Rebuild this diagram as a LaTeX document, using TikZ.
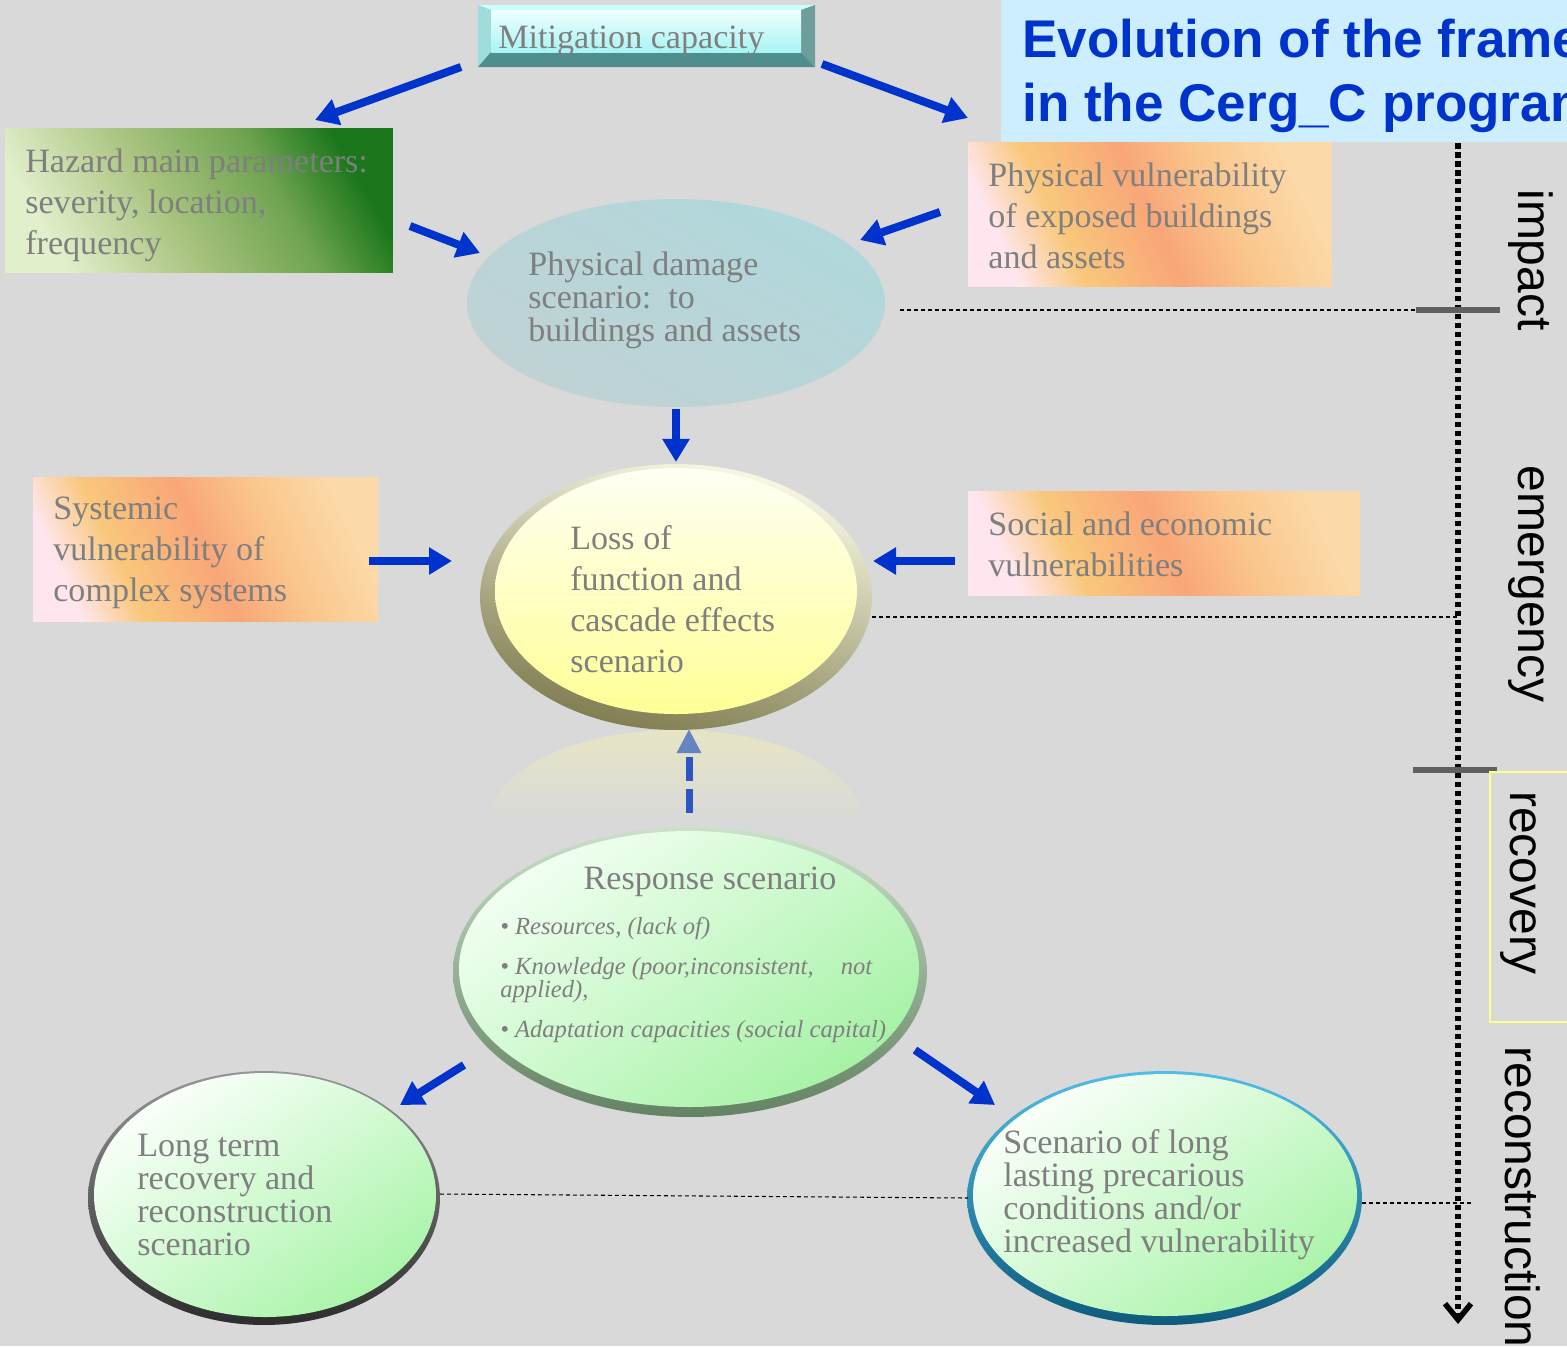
\documentclass[tikz,border=0pt]{standalone}
\usepackage{fontspec}
\setmainfont{Liberation Serif}
\newfontfamily\arialfont{Liberation Sans}
\usetikzlibrary{arrows.meta,shapes.geometric}

\definecolor{bg}{HTML}{D9D9D9}
\definecolor{titlebg}{HTML}{CCEEFF}
\definecolor{titleblue}{HTML}{0033CC}
\definecolor{arrowblue}{HTML}{0033CC}
\definecolor{txtgrey}{HTML}{7F7F7F}
\definecolor{barGrey}{HTML}{606060}
% bevel colours of the button
\definecolor{bvTop}{HTML}{C8FFFF}
\definecolor{bvLeft}{HTML}{9FDCDC}
\definecolor{bvBottom}{HTML}{4F8E8C}
\definecolor{bvRight}{HTML}{6E9E9C}
% peach panel colours
\definecolor{pkA}{HTML}{FFE6EE}
\definecolor{orA}{HTML}{F9C87C}
\definecolor{salA}{HTML}{F9A678}
\definecolor{orB}{HTML}{FAC68C}
\definecolor{pkB}{HTML}{FCD9A8}
% hazard panel colours
\definecolor{gA}{HTML}{E2EFCB}
\definecolor{gB}{HTML}{A7C27D}
\definecolor{gC}{HTML}{6FA352}
\definecolor{gD}{HTML}{1B771B}

\pgfdeclarehorizontalshading{peachglow}{100bp}{color(0bp)=(pkA); color(25bp)=(pkA); color(35bp)=(orA); color(50bp)=(salA); color(62bp)=(orB); color(75bp)=(pkB); color(100bp)=(pkB)}
\pgfdeclarehorizontalshading{greenfade}{100bp}{color(0bp)=(gA); color(25bp)=(gA); color(45bp)=(gB); color(62bp)=(gC); color(75bp)=(gD); color(100bp)=(gD)}

\begin{document}
\begin{tikzpicture}[x=0.02cm, y=-0.02cm,
  txt/.style={text=txtgrey, inner sep=0, anchor=west, align=left, font=\fontsize{19.4}{23.4}\selectfont},
  txttight/.style={txt, font=\fontsize{19.4}{18.8}\selectfont},
  bul/.style={text=txtgrey, inner sep=0, anchor=west, font=\fontsize{14}{13.2}\selectfont\itshape},
  flow/.style={draw=arrowblue, line width=0.16cm, -{Triangle[length=0.46cm,width=0.52cm]}},
  guide/.style={draw=black, line width=0.6pt, dash pattern=on 0.08cm off 0.06cm},
  phasebar/.style={draw=barGrey, line width=0.12cm},
  phase/.style={font=\arialfont\fontsize{27.3}{28}\selectfont, rotate=-90, anchor=base, inner sep=0, text=black},
  panel/.style={rectangle, inner sep=0, shade, minimum height=2.9cm},
  peach/.style={panel, shading=peachglow, shading angle=25},
]
\useasboundingbox (0,0) rectangle (1567,1346);
\fill[bg] (0,0) rectangle (1567,1346);

% title banner
\begin{scope}
  \clip (1001,0) rectangle (1567,142);
  \fill[titlebg] (1001,0) rectangle (1567,142);
  \node[font=\arialfont\bfseries\fontsize{30.2}{36}\selectfont, text=titleblue, anchor=base west, inner sep=0] (title1) at (1022,57) {Evolution of the framework};
  \node[font=\arialfont\bfseries\fontsize{30.2}{36}\selectfont, text=titleblue, anchor=base west, inner sep=0] (title2) at (1022,121) {in the Cerg\_C programme};
\end{scope}

% bevelled "Mitigation capacity" button
\fill[bvTop] (478,5) -- (815,5) -- (801,10) -- (491,10) -- cycle;
\fill[bvLeft] (478,5) -- (491,10) -- (491,52) -- (478,67) -- cycle;
\fill[bvBottom] (478,67) -- (491,52) -- (801,52) -- (815,67) -- cycle;
\fill[bvRight] (815,5) -- (801,10) -- (801,52) -- (815,67) -- cycle;
\shade[top color={rgb,255:red,240;green,255;blue,255}, bottom color={rgb,255:red,168;green,244;blue,244}] (491,10) rectangle (801,52);
\node[txt, anchor=base west] (mit) at (498,48) {Mitigation capacity};

% input panels
\node[panel, shading=greenfade, shading angle=30, minimum width=7.76cm] (haz) at (199,200.5) {};
\node[txt] (hazt) at (25,205) {Hazard main parameters:\\severity, location,\\frequency};

\node[peach, minimum width=7.28cm] (pv) at (1150,214.5) {};
\node[txt] (pvt) at (988,216) {Physical vulnerability\\of exposed buildings\\and assets};

\node[peach, minimum width=6.9cm] (sys) at (205.5,549.5) {};
\node[txt] (syst) at (53,553) {Systemic\\vulnerability of\\complex systems};

\node[peach, minimum width=7.84cm, minimum height=2.08cm] (soc) at (1164,543) {};
\node[txt] (soct) at (988,544) {Social and economic\\vulnerabilities};

% physical damage scenario
\node[ellipse, inner sep=0, minimum width=8.36cm, minimum height=4.16cm, shade,
      top color={rgb,255:red,176;green,216;blue,220}, middle color={rgb,255:red,154;green,190;blue,195},
      bottom color={rgb,255:red,192;green,210;blue,212}, shading angle=-30] (dmg) at (676,303) {};
\node[txttight] (dmgt) at (528,300) {Physical damage\\scenario:\ \ to\\buildings and assets};

% loss of function scenario
\node[ellipse, inner sep=0, minimum width=7.84cm, minimum height=5.32cm, shade,
      top color={rgb,255:red,250;green,250;blue,230}, middle color={rgb,255:red,184;green,182;blue,128},
      bottom color={rgb,255:red,126;green,123;blue,78}, shading angle=-15] (loss) at (676,597) {};
\shade[top color={rgb,255:red,255;green,255;blue,244}, bottom color={rgb,255:red,255;green,255;blue,150}]
  (676,591) ellipse [x radius=181, y radius=123];
\node[txt] (losst) at (570,599) {Loss of\\function and\\cascade effects\\scenario};

% faint reflection under the loss ellipse
\begin{scope}
  \clip (470,725) rectangle (880,822);
  \clip (676,822) ellipse [x radius=186, y radius=92];
  \shade[top color={rgb,255:red,231;green,229;blue,196}, bottom color=bg] (470,728) rectangle (880,822);
\end{scope}

% response scenario
\node[ellipse, inner sep=0, minimum width=9.48cm, minimum height=5.8cm, shade,
      top color={rgb,255:red,200;green,225;blue,200}, bottom color={rgb,255:red,100;green,130;blue,100}] (resp) at (690,972) {};
\shade[top color={rgb,255:red,242;green,255;blue,242}, bottom color={rgb,255:red,166;green,242;blue,166}, shading angle=35]
  (689,969) ellipse [x radius=230, y radius=138];
\node[txt, anchor=center] (respt) at (710,882) {Response scenario};
\node[bul] (r1) at (500,928) {\textbullet\ Resources, (lack of)};
\node[bul] (r2) at (500,980) {\parbox{7.44cm}{\textbullet\ Knowledge (poor,inconsistent,\hfill not\\applied),}};
\node[bul] (r3) at (500,1032) {\textbullet\ Adaptation capacities (social capital)};

% long term recovery scenario
\node[ellipse, inner sep=0, minimum width=7.04cm, minimum height=5.08cm, shade,
      top color={rgb,255:red,150;green,150;blue,150}, bottom color={rgb,255:red,45;green,45;blue,45}] (lt) at (264,1198) {};
\shade[top color={rgb,255:red,250;green,255;blue,250}, bottom color={rgb,255:red,170;green,244;blue,170}, shading angle=35]
  (265,1195) ellipse [x radius=171, y radius=122];
\node[txttight] (ltt) at (137,1195) {Long term\\recovery and\\reconstruction\\scenario};

% precarious conditions scenario
\node[ellipse, inner sep=0, minimum width=7.9cm, minimum height=5.08cm, shade,
      top color={rgb,255:red,80;green,190;blue,230}, bottom color={rgb,255:red,14;green,90;blue,124}] (slc) at (1164.5,1198) {};
\shade[top color={rgb,255:red,250;green,255;blue,250}, bottom color={rgb,255:red,170;green,244;blue,170}, shading angle=35]
  (1165,1195) ellipse [x radius=192, y radius=121];
\node[txttight] (slct) at (1003,1195) {Scenario of long\\lasting precarious\\conditions and/or\\increased vulnerability};

% flow arrows
\coordinate (m1) at (461,67);   \coordinate (h1) at (315,120);
\coordinate (m2) at (822,64);   \coordinate (v1) at (968,118);
\coordinate (h2) at (410,226);  \coordinate (d1) at (480,253);
\coordinate (v2) at (940,212);  \coordinate (d2) at (860,240);
\coordinate (s1) at (369,561);  \coordinate (l1) at (452,561);
\coordinate (e1) at (955,561);  \coordinate (l2) at (873,561);
\coordinate (p1) at (464,1065); \coordinate (q1) at (400,1105);
\coordinate (p2) at (915,1050); \coordinate (q2) at (995,1105);
\coordinate (u0) at (689,813);  \coordinate (u1) at (689,729);
\draw[flow] (m1) -- (h1);
\draw[flow] (m2) -- (v1);
\draw[flow] (h2) -- (d1);
\draw[flow] (v2) -- (d2);
\draw[flow, shorten <=1pt, shorten >=1pt] (dmg.south) -- (loss.north);
\draw[flow] (s1) -- (l1);
\draw[flow] (e1) -- (l2);
\draw[flow] (p1) -- (q1);
\draw[flow] (p2) -- (q2);
\draw[draw={rgb,255:red,47;green,85;blue,196}, line width=0.14cm, dash pattern=on 0.48cm off 0.16cm,
      -{Triangle[length=0.48cm,width=0.46cm,color={rgb,255:red,101;green,133;blue,194}]}] (u0) -- (u1);

% time axis with phase marks
\coordinate (g1a) at (900,310);   \coordinate (g1b) at (1416,310);
\coordinate (g2a) at (872,617);   \coordinate (g2b) at (1458,617);
\coordinate (g3a) at (440,1194);  \coordinate (g3b) at (968,1198);
\coordinate (g4a) at (1362,1203); \coordinate (g4b) at (1472,1203);
\draw[guide] (g1a) -- (g1b);
\draw[guide] (g2a) -- (g2b);
\draw[guide] (g3a) -- (g3b);
\draw[guide] (g4a) -- (g4b);

\coordinate (t0) at (1458,143);
\coordinate (t1) at (1458,1324);
\draw[line width=0.11cm, dash pattern=on 0.11cm off 0.07cm, -{Straight Barb[length=0.32cm,width=0.52cm]}] (t0) -- (t1);

\coordinate (b1a) at (1416,310); \coordinate (b1b) at (1500,310);
\coordinate (b2a) at (1413,770); \coordinate (b2b) at (1497,770);
\draw[phasebar] (b1a) -- (b1b);
\draw[phasebar] (b2a) -- (b2b);

\draw[draw={rgb,255:red,255;green,255;blue,140}, line width=0.03cm] (1567,772) -- (1490,772) -- (1490,1022) -- (1567,1022);

\node[phase] (ph1) at (1518,260) {impact};
\node[phase] (ph2) at (1518,584) {emergency};
\node[phase] (ph3) at (1510,883) {recovery};
\node[phase] (ph4) at (1505,1197) {reconstruction};
\end{tikzpicture}
\end{document}
